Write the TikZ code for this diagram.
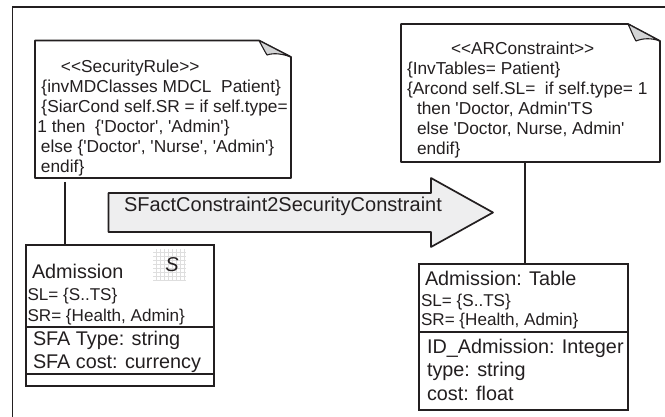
\documentclass[tikz,border=0pt]{standalone}
\usepackage{fontspec}
\newfontfamily\lib{Liberation Sans}
\newcommand{\fsz}[2]{\fontsize{#1pt}{#2pt}\selectfont}
\definecolor{ink}{HTML}{231F20}
\definecolor{foldgray}{HTML}{D4D5D6}
\definecolor{arrowgray}{HTML}{EEEEEF}
\tikzset{
  every node/.style={inner sep=0pt,outer sep=0pt,text=ink},
  frameline/.style={draw=ink,line width=1.7pt},
  noteline/.style={draw=ink,line width=1.7pt,line join=round},
  connector/.style={draw=ink,line width=1.4pt},
  classbox/.style={draw=ink,line width=1.7pt,fill=white,anchor=north west},
  area/.style={anchor=north west},
  notetext/.style={anchor=north west,align=left,font=\lib\fsz{17.3}{20}},
  mainline/.style={anchor=base west,font=\lib\fsz{19.8}{20}},
  smallline/.style={anchor=base west,font=\lib\fsz{17.1}{20}},
}
\begin{document}
\begin{tikzpicture}[x=1pt,y=-1pt]
\useasboundingbox (0,0) rectangle (665,417);
% open outer frame
\draw[frameline] (12.5,417) -- (12.5,7) -- (665,7);
% --- left note
\node[area,minimum width=256pt,minimum height=137.5pt] (noteL) at (35,40.5) {};
\draw[noteline,fill=white] (noteL.north west) -- (259,40.5) -- (291,57) |- (noteL.south west) -- cycle;
\draw[noteline,fill=foldgray,line width=1.1pt] (259,40.5) .. controls (262,46) and (264,50) .. (267,55) .. controls (274,52.5) and (283,54) .. (291,57) -- cycle;
\node[notetext] (noteLtext) at (36.5,59.5) {\hspace*{24.5pt}<<SecurityRule>>\\
\hspace*{5pt}\{invMDClasses MDCL\ \ Patient\}\\
\hspace*{5pt}\{SiarCond self.SR = if self.type=\\
\hspace*{1pt}1 then\ \ \{'Doctor', 'Admin'\}\\
\hspace*{4.5pt}else \{'Doctor', 'Nurse', 'Admin'\}\\
\hspace*{4.5pt}endif\}};
% --- right note
\node[area,minimum width=259pt,minimum height=138pt] (noteR) at (401,24) {};
\draw[noteline,fill=white] (noteR.north west) -- (628,24) -- (660,41) |- (noteR.south west) -- cycle;
\draw[noteline,fill=foldgray,line width=1.1pt] (628,24) .. controls (631,30) and (633,36) .. (636,41) .. controls (643,38) and (652,38) .. (660,41) -- cycle;
\node[notetext] (noteRtext) at (406,41.5) {\hspace*{45pt}<<ARConstraint>>\\
\hspace*{1pt}\{InvTables= Patient\}\\
\hspace*{1pt}\{Arcond self.SL=\ \ if self.type= 1\\
\hspace*{11pt}then 'Doctor, Admin'TS\\
\hspace*{11pt}else 'Doctor, Nurse, Admin'\\
\hspace*{11pt}endif\}};
% --- transformation arrow
\draw[noteline,fill=arrowgray] (108.5,193) -- (431,193) -- (431,178) -- (493,212.5) -- (431,247) -- (431,232) -- (108.5,232) -- cycle;
\node[anchor=base west,font=\lib\fsz{20}{20}] (arrowtext) at (124,212) {SFactConstraint2SecurityConstraint};
% --- left class
\node[classbox,minimum width=188pt,minimum height=141pt] (classL) at (26,245) {};
\coordinate (classLdivA) at (26,327);
\coordinate (classLdivB) at (26,374);
\draw[noteline] (classLdivA) -- (classLdivA -| classL.east);
\draw[noteline] (classLdivB) -- (classLdivB -| classL.east);
\node[mainline] (classLname) at (32,279) {Admission};
\node[smallline] (classLsl) at (27.5,301) {SL= \{S..TS\}};
\node[smallline] (classLsr) at (27.5,321) {SR= \{Health, Admin\}};
\node[mainline] (classLa) at (33,345) {SFA Type: string};
\node[mainline] (classLb) at (33,368) {SFA cost: currency};
% stereotype icon
\node[anchor=north west,minimum width=33pt,minimum height=32pt] (icon) at (153,249) {};
\draw[black!13,line width=.5pt,step=4pt] (153,249) grid (186,281);
\node[font=\lib\itshape\fsz{20}{20},text=ink] (iconS) at (172,265) {S};
% --- right class
\node[classbox,minimum width=209pt,minimum height=146pt] (classR) at (419,264) {};
\coordinate (classRdiv) at (419,332);
\draw[noteline] (classRdiv) -- (classRdiv -| classR.east);
\node[mainline] (classRname) at (425,286) {Admission: Table};
\node[smallline] (classRsl) at (421,307) {SL= \{S..TS\}};
\node[smallline] (classRsr) at (421,326) {SR= \{Health, Admin\}};
\node[mainline] (classRa) at (427,353) {ID\_Admission: Integer};
\node[mainline] (classRb) at (427,377) {type: string};
\node[mainline] (classRc) at (427,400) {cost: float};
% --- connectors
\coordinate (connLtop) at (65,182);
\draw[connector] (connLtop) -- (connLtop |- classL.north);
\coordinate (connRtop) at (525,162);
\draw[connector] (connRtop) -- (connRtop |- classR.north);
\end{tikzpicture}
\end{document}
